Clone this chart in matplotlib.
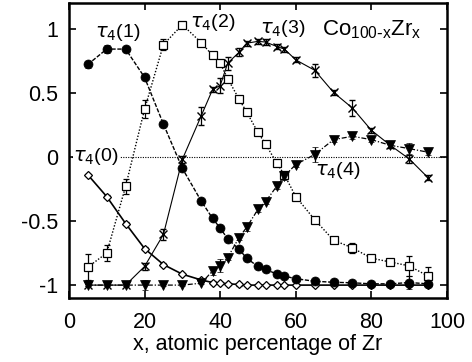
import numpy as np
import matplotlib.pyplot as plt

plt.rcParams['font.family'] = ['Liberation Sans', 'DejaVu Sans']
plt.rcParams['mathtext.fontset'] = 'dejavusans'

# ---------------------------------------------------------------------------
# Data
# ---------------------------------------------------------------------------
x_all = [5, 10, 15, 20, 25, 30, 35, 38, 40, 42, 45, 47, 50, 52, 55, 57, 60,
         65, 70, 75, 80, 85, 90, 95]

# tau4(0): open diamonds, solid
t0 = [-0.14, -0.31, -0.52, -0.715, -0.84, -0.915, -0.96, -0.98, -0.985, -0.99,
      -0.995, -1.0, -1.0, -1.0, -1.0, -1.0, -1.0,
      -1.0, -1.0, -1.0, -1.0, -1.0, -1.0, -1.0]
t0_err = [0.01] * len(x_all)

# tau4(1): filled circles, dashed
t1 = [0.72, 0.84, 0.84, 0.62, 0.255, -0.09, -0.345, -0.48, -0.555, -0.64,
      -0.72, -0.79, -0.855, -0.876, -0.915, -0.93, -0.95,
      -0.97, -0.978, -0.982, -0.99, -0.99, -0.98, -0.99]
t1_err = [0.03, 0.03, 0.02, 0.01, 0.01, 0.02, 0.01, 0.01, 0.01, 0.01,
          0.01, 0.01, 0.01, 0.01, 0.01, 0.01, 0.01,
          0.02, 0.01, 0.01, 0.01, 0.01, 0.05, 0.01]

# tau4(2): open squares, dotted
t2 = [-0.86, -0.75, -0.23, 0.37, 0.875, 1.03, 0.89, 0.79, 0.73, 0.61,
      0.45, 0.35, 0.19, 0.10, -0.05, -0.14, -0.31,
      -0.49, -0.65, -0.71, -0.79, -0.82, -0.85, -0.93]
t2_err = [0.1, 0.06, 0.06, 0.07, 0.04, 0.02, 0.02, 0.02, 0.02, 0.02,
          0.02, 0.02, 0.02, 0.02, 0.02, 0.02, 0.02,
          0.02, 0.02, 0.04, 0.02, 0.02, 0.08, 0.07]

# tau4(3): crosses, thin solid
t3 = [-1.0, -1.0, -1.0, -0.855, -0.605, -0.02, 0.32, 0.525, 0.555, 0.73,
      0.815, 0.886, 0.9, 0.895, 0.86, 0.84, 0.756,
      0.675, 0.502, 0.38, 0.207, 0.09, -0.016, -0.163]
t3_err = [0.01, 0.01, 0.01, 0.03, 0.04, 0.03, 0.07, 0.02, 0.06, 0.05,
          0.03, 0.02, 0.02, 0.02, 0.02, 0.02, 0.02,
          0.05, 0.02, 0.06, 0.02, 0.02, 0.03, 0.02]

# tau4(4): filled down triangles, dash-dot
t4 = [-1.0, -1.0, -1.0, -1.0, -1.0, -1.0, -0.985, -0.89, -0.85, -0.785,
      -0.63, -0.55, -0.41, -0.35, -0.228, -0.15, -0.06,
      0.018, 0.134, 0.16, 0.134, 0.09, 0.064, 0.036]
t4_err = [0.01, 0.01, 0.01, 0.04, 0.01, 0.01, 0.01, 0.03, 0.05, 0.02,
          0.02, 0.03, 0.02, 0.02, 0.02, 0.03, 0.02,
          0.06, 0.02, 0.02, 0.02, 0.02, 0.04, 0.02]

labels = ['$\\tau_4$(0)', '$\\tau_4$(1)', '$\\tau_4$(2)', '$\\tau_4$(3)', '$\\tau_4$(4)']
label_pos = [(1.2, 0.0), (6.9, 0.97), (32, 1.05), (50.5, 1.0), (65, -0.11)]

# ---------------------------------------------------------------------------
fig = plt.figure(figsize=(4.72, 3.62), dpi=100)
ax = fig.add_axes([0.146, 0.177, 0.801, 0.815])

ax.axhline(0, color='black', lw=0.8, ls=(0, (1, 1.2)), zorder=1)

common = dict(color='black', ecolor='black', elinewidth=0.9, capsize=2.5,
              capthick=0.9)
ax.errorbar(x_all, t0, yerr=t0_err, fmt='D', ms=4, mfc='white', mew=0.9,
            ls='-', lw=1.2, zorder=3, **common)
ax.errorbar(x_all, t3, yerr=t3_err, fmt='x', ms=6, mew=1.0,
            ls='-', lw=0.8, zorder=4, **common)
ax.errorbar(x_all, t2, yerr=t2_err, fmt='s', ms=6, mfc='white', mew=0.9,
            ls=(0, (1, 1.3)), lw=1.0, zorder=5, **common)
ax.errorbar(x_all, t4, yerr=t4_err, fmt='v', ms=6.5, mew=0.5,
            ls=(0, (4, 1.5, 1, 1.5)), lw=0.9, zorder=6, **common)
ax.errorbar(x_all, t1, yerr=t1_err, fmt='o', ms=6.5, mew=0.5,
            ls=(0, (3, 1.2)), lw=1.0, zorder=7, **common)

for lab, (lx, ly) in zip(labels, label_pos):
    ax.text(lx, ly, lab, fontsize=14, ha='left', va='center', zorder=10,
            bbox=dict(facecolor='white', edgecolor='none', pad=0.5) if lab.endswith('(0)') else None)

ax.text(67, 0.99, 'Co$_{\\mathregular{100\\text{-}x}}$Zr$_{\\mathregular{x}}$', fontsize=16,
        ha='left', va='center')

ax.set_xlim(0, 100)
ax.set_ylim(-1.1, 1.2)
ax.set_xticks([0, 20, 40, 60, 80, 100])
ax.set_yticks([-1, -0.5, 0, 0.5, 1])
ax.set_yticklabels(['-1', '-0.5', '0', '0.5', '1'])
ax.tick_params(direction='in', top=True, right=True, length=5, width=1.2,
               labelsize=15.5)
ax.tick_params(axis='x', pad=10)
ax.tick_params(axis='y', pad=8)
for sp in ax.spines.values():
    sp.set_linewidth(1.8)
ax.set_xlabel('x, atomic percentage of Zr', fontsize=15.5, labelpad=1)

fig.savefig('out.png', dpi=100)
